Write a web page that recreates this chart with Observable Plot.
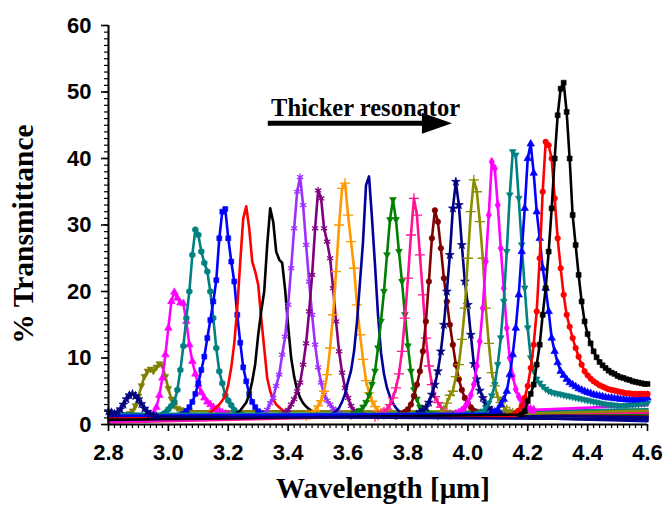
<!DOCTYPE html>
<html><head><meta charset="utf-8">
<script src="https://cdn.jsdelivr.net/npm/d3@7"></script>
<script src="https://cdn.jsdelivr.net/npm/@observablehq/plot@0.6"></script>
<style>
html,body{margin:0;padding:0;background:#fff;}
</style></head><body><div id="chart"></div>
<script>
// ---------- data ----------
const xTicks = [2.8, 3.0, 3.2, 3.4, 3.6, 3.8, 4.0, 4.2, 4.4, 4.6];
const yTicks = [0, 10, 20, 30, 40, 50, 60];
const xTitle = "Wavelength [μm]";
const yTitle = "% Transmittance";
const annotation = [{label: "Thicker resonator", x: 3.343, y: 47.6}];
const arrowSpan = [{x1: 3.367, x2: 3.947, y: 45.3}];

const curveColors = ["#000080","#808000","#ff00ff","#008080","#0000ff","#ff0000","#000000","#9b30ff","#800080","#ff9900","#00009c","#008000","#ff1493","#800000","#000080","#8c8c00","#ff00ff","#008080","#0000ff","#ff0000","#000000"];
const curveMarkers = ["star","triDown","triangle","hexagon","square","none","none","asterisk","asterisk","plus","none","triDown","plus","circle","star","plus","diamond","triDown","triangle","circle","square"];
// first sampled wavelength of each curve (samples every 0.01 µm)
const starts = [2.80,2.84,2.93,2.98,3.04,3.12,3.22,3.31,3.38,3.46,3.54,3.61,3.69,3.76,3.83,3.90,3.96,4.03,4.08,4.14,4.18];
const baseLeft  = [null,0.6,0.4,1.4,1.7,0.9,1.2,0.5,1.5,0.7,0.6,1.0,0.3,1.3,1.1,0.8,0.5,1.6,1.3,0.9,0.7];
const baseRight = [0.8,1.9,1.1,2.3,1.6,1.3,0.7,1.0,1.7,0.6,0.5,1.4,1.8,1.2,1.1,2.1,2.9,null,null,null,null];

const c01 = [2.0,1.8,1.6,1.8,2.3,3.0,3.8,4.4,4.6,4.3,3.8,3.1,2.4,1.9,1.5,1.3,1.2];
const c02 = [0.8,1.0,1.3,1.6,2.0,2.8,4.2,5.8,7.2,8.0,8.3,8.0,8.6,9.1,8.8,7.2,5.4,3.8,2.8,2.4,2.2,2.1,2.0,2.0];
const c03 = [1.2,1.3,1.6,2.6,4.4,7.0,10.5,14.5,18.5,19.9,19.0,18.3,18.2,15.5,12.0,9.5,7.6,6.0,4.8,4.0,3.4,3.0,2.6,2.3,2.1,1.8,1.6,1.5];
const c04 = [1.5,1.8,2.3,2.8,3.4,5.2,8.2,11.8,16.0,20.0,25.5,29.3,28.5,26.0,24.3,23.0,20.0,16.0,11.5,8.0,6.2,4.4,3.6,2.9,2.2,1.7,1.5,1.3];
const c05 = [1.4,1.6,2.0,2.6,3.4,4.6,6.2,8.2,10.2,13.0,15.7,18.5,21.7,28.0,32.0,32.4,28.0,24.5,21.5,16.5,12.3,8.6,6.5,4.6,3.4,2.6,2.0,1.7,1.5];
const c06 = [1.2,1.5,1.8,2.2,2.6,3.0,3.6,4.3,6.0,8.6,12.2,17.5,24.5,31.0,32.8,29.5,24.5,23.0,21.0,16.0,11.5,7.0,5.0,3.8,3.0,2.6,2.2,1.9,1.7,1.5];
const c07 = [1.5,1.8,2.1,2.7,3.3,4.5,6.5,9.1,13.5,17.0,20.0,27.0,32.5,30.5,26.0,24.8,24.3,20.2,14.8,10.0,7.2,5.2,4.0,3.2,2.7,2.3,2.0,1.7,1.5];
const c08 = [1.3,1.6,2.2,3.2,4.0,5.8,7.5,10.5,13.2,18.0,23.5,29.5,35.0,37.2,33.0,27.0,21.5,16.5,12.0,8.6,6.3,4.5,3.6,3.0,2.4,2.0,1.7,1.5];
const c09 = [1.5,1.8,2.2,3.0,3.8,5.0,6.3,9.0,12.2,17.0,22.5,29.5,35.2,34.0,29.5,27.5,25.0,20.5,15.5,11.0,7.8,5.5,4.0,2.8,2.1,1.8,1.6,1.4];
const c10 = [1.3,1.5,1.6,2.0,2.8,3.6,5.0,7.5,11.5,16.5,23.0,30.0,35.5,36.3,31.5,27.5,23.5,18.0,13.5,9.8,6.6,4.8,3.5,2.7,2.1,1.8,1.5];
const c11 = [1.4,1.7,2.0,2.5,3.4,4.6,6.5,8.1,11.0,15.5,21.5,27.5,36.0,37.3,31.0,24.0,16.5,10.8,7.6,5.5,4.2,3.2,2.5,2.0,1.7,1.5];
const c12 = [1.3,1.5,1.8,2.1,2.6,3.3,4.4,6.0,8.0,11.5,15.5,20.0,25.5,30.8,33.8,30.8,26.0,21.5,16.5,11.8,8.0,5.2,3.8,2.6,2.1,1.8,1.6,1.4];
const c13 = [1.2,1.4,1.6,1.9,2.3,3.0,4.0,5.5,7.6,11.0,16.0,22.0,28.5,34.0,31.5,25.5,19.5,13.0,8.8,6.0,4.2,3.3,2.6,2.1,1.8,1.5];
const c14 = [1.2,1.4,1.6,1.9,2.3,3.0,4.3,6.0,8.0,11.0,15.5,21.5,28.0,32.2,30.5,26.5,22.0,18.5,15.0,12.0,9.0,6.8,5.2,4.0,3.2,2.6,2.1,1.9,1.6,1.4];
const c15 = [1.5,1.8,2.1,2.6,3.3,4.5,6.0,8.0,11.0,15.0,20.0,25.5,32.5,36.5,33.0,27.0,21.5,18.0,13.5,9.1,6.8,5.1,4.0,3.2,2.5,2.1,1.8,1.6,1.4];
const c16 = [1.4,1.7,2.1,3.2,4.4,5.0,7.2,9.0,12.8,17.5,25.0,32.0,36.8,35.0,30.5,25.0,17.5,12.2,7.8,5.8,4.1,3.3,2.6,2.2,1.9,1.7,1.6];
const c17 = [1.6,1.8,2.1,2.6,3.3,4.4,6.0,8.8,12.5,17.5,24.5,31.5,39.5,38.5,33.0,26.5,20.5,14.5,10.0,7.3,5.3,4.2,3.4,2.9,2.5,2.3,2.2];
const c18 = [1.6,1.8,2.0,2.5,3.2,4.3,6.0,9.0,13.0,18.5,26.0,34.5,41.0,40.5,34.0,27.0,20.5,14.5,10.0,8.0,6.8,6.2,5.7,5.3,5.0,4.8,4.7,4.6,
             4.5,4.4,4.3,4.2,4.1,4.0,3.9,3.8,3.7,3.6,3.5,3.4,3.3,3.2,3.1,3.0,3.0,2.9,2.9,2.8,2.8,2.8,2.8,2.9,2.9,3.0,3.0,3.1,3.1,3.2];
const c19 = [1.6,1.9,2.2,3.0,3.8,5.0,7.5,10.5,14.5,19.5,26.0,32.5,40.0,42.2,37.8,32.0,28.0,23.5,20.5,17.0,13.0,11.0,9.3,8.0,7.4,6.8,6.3,6.0,5.7,5.4,
             5.2,5.0,4.8,4.7,4.5,4.4,4.3,4.2,4.1,4.0,4.0,3.9,3.9,3.8,3.8,3.7,3.7,3.7,3.7,3.8,3.8,3.9,4.0];
const c20 = [1.2,1.4,1.7,2.1,2.8,4.0,5.8,8.5,12.0,17.0,25.0,35.0,42.5,42.0,40.0,34.0,28.0,23.5,19.5,16.5,14.7,13.0,11.5,10.2,9.0,8.0,7.4,6.9,6.5,6.2,
             5.9,5.7,5.5,5.3,5.2,5.1,5.0,4.9,4.8,4.7,4.7,4.6,4.6,4.6,4.6,4.6,4.6];
const c21 = [1.5,2.0,3.5,4.6,6.0,9.0,12.0,16.5,20.5,26.0,32.5,40.0,46.5,50.5,51.4,47.0,40.0,31.5,27.0,22.5,18.5,15.5,13.6,12.2,11.0,10.1,9.4,8.9,8.5,8.1,
             7.8,7.6,7.3,7.1,7.0,6.8,6.7,6.5,6.4,6.3,6.2,6.1,6.1];
const samples = [c01,c02,c03,c04,c05,c06,c07,c08,c09,c10,c11,c12,c13,c14,c15,c16,c17,c18,c19,c20,c21];
const step = 0.01;

// ---------- build tables ----------
const series = samples.map((ys, i) => {
  const pts = [];
  const s = starts[i];
  if (s > 2.8 + 1e-9) pts.push({id: i, x: 2.8, y: baseLeft[i], m: false});
  ys.forEach((y, j) => pts.push({id: i, x: +(s + j * step).toFixed(3), y, m: true}));
  const last = pts[pts.length - 1].x;
  if (last < 4.6 - 1e-9) pts.push({id: i, x: 4.6, y: baseRight[i], m: false});
  return pts;
});

const triDown = {draw(ctx, size) {
  const r = Math.sqrt(size / Math.PI);
  ctx.moveTo(-r * 1.2, -r * 0.8); ctx.lineTo(r * 1.2, -r * 0.8); ctx.lineTo(0, r * 1.3); ctx.closePath();
}};
const arrowHead = {draw(ctx, size) {
  const r = Math.sqrt(size / Math.PI);
  ctx.moveTo(0, 0); ctx.lineTo(-2 * r, -0.7 * r); ctx.lineTo(-2 * r, 0.7 * r); ctx.closePath();
}};
const symbolOf = name => name === "triDown" ? triDown : name;

const xMinor = d3.range(0, 91).map(i => +(2.8 + i * 0.02).toFixed(2));
const yMinor = d3.range(0, 61);

const order = d3.range(1, 21).concat([0]);
const curveMarks = [];
for (const i of order) {
  curveMarks.push(Plot.line(series[i], {x: "x", y: "y", stroke: curveColors[i], strokeWidth: 2.6, curve: "linear"}));
  if (curveMarkers[i] !== "none") {
    const sym = symbolOf(curveMarkers[i]);
    const isStroke = ["asterisk", "plus"].includes(curveMarkers[i]);
    curveMarks.push(Plot.dot(series[i].filter(d => d.m), {
      x: "x", y: "y", symbol: sym, r: isStroke ? 3.4 : 2.8,
      fill: isStroke ? "none" : curveColors[i], stroke: curveColors[i], strokeWidth: isStroke ? 1.3 : 0.6
    }));
  }
}

const serif = "Liberation Serif, Times New Roman, serif";
const chart = Plot.plot({
  width: 665, height: 506,
  marginLeft: 108, marginRight: 18, marginTop: 25, marginBottom: 82,
  x: {domain: [2.8, 4.6]},
  y: {domain: [0, 60]},
  style: {background: "#fff", fontFamily: "Liberation Sans, Arial, sans-serif", color: "#000"},
  marks: [
    ...curveMarks,
    Plot.axisY(yMinor, {tickSize: 4, tickFormat: () => "", label: null, strokeWidth: 1.2}),
    Plot.axisY(yTicks, {tickSize: 7, tickPadding: 10, fontSize: 22, fontWeight: "bold", label: null, strokeWidth: 1.6}),
    Plot.axisX(xMinor, {tickSize: 4, tickFormat: () => "", label: null, strokeWidth: 1.2}),
    Plot.axisX(xTicks, {tickSize: 7, tickPadding: 13, fontSize: 22, fontWeight: "bold", tickFormat: d => d.toFixed(1), label: null, strokeWidth: 1.6}),
    Plot.ruleX([2.8], {stroke: "#000", strokeWidth: 2}),
    Plot.ruleY([0], {stroke: "#000", strokeWidth: 2}),
    Plot.ruleY(arrowSpan, {x1: "x1", x2: "x2", y: "y", stroke: "#000", strokeWidth: 5, dx: -10}),
    Plot.dot(arrowSpan, {x: "x2", y: "y", symbol: arrowHead, r: 15, fill: "#000", stroke: "none"}),
    Plot.text(annotation, {x: "x", y: "y", text: "label", textAnchor: "start", fontSize: 24.5, fontWeight: "bold", fontFamily: serif, fill: "#000"}),
    Plot.text([xTitle], {text: d => d, frameAnchor: "bottom", textAnchor: "middle", dy: 73, dx: 5, fontSize: 29, fontWeight: "bold", fontFamily: serif, fill: "#000"}),
    Plot.text([yTitle], {text: d => d, frameAnchor: "left", textAnchor: "middle", dx: -85, dy: 9, rotate: -90, fontSize: 29.5, fontWeight: "bold", fontFamily: serif, fill: "#000"})
  ]
});
document.getElementById("chart").appendChild(chart);
</script></body></html>
